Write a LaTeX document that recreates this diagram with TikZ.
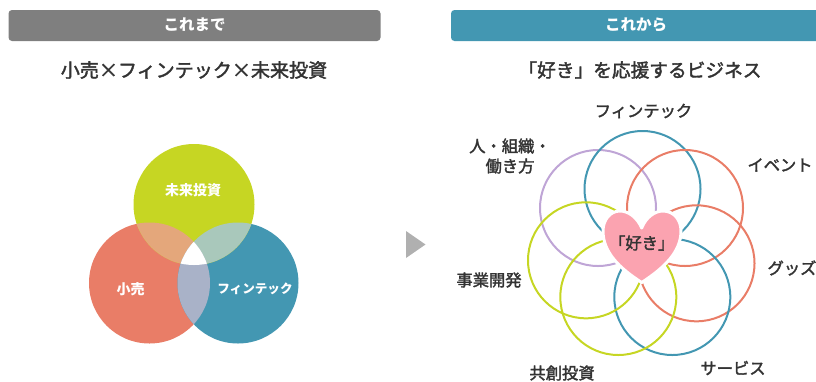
\documentclass[tikz,border=0pt]{standalone}
\usepackage{fontspec}
\setmainfont{Noto Sans CJK JP}
\newfontfamily\medfont[FakeBold=2]{Noto Sans CJK JP}
\definecolor{cgreen}{HTML}{C6D623}
\definecolor{cred}{HTML}{E97D67}
\definecolor{cblue}{HTML}{4397B2}
\definecolor{cpurple}{HTML}{BFA5D6}
\definecolor{corange}{HTML}{E4A77B}
\definecolor{cmint}{HTML}{A9C8BB}
\definecolor{cslate}{HTML}{A9B2C8}
\definecolor{cheart}{HTML}{FBA3B0}
\definecolor{cgrey}{HTML}{7F7F7F}
\definecolor{carrow}{HTML}{B0B0B0}
\definecolor{ctxt}{HTML}{333333}
\tikzset{
  headerbar/.style={fill=#1,rounded corners=3.5pt,draw=none},
  headertext/.style={text=white,font=\bfseries\fontsize{15.5}{15.5}\selectfont,inner sep=0pt},
  titletext/.style={text=ctxt,font=\medfont\fontsize{#1}{19}\selectfont,inner sep=0pt},
  lab/.style={text=ctxt,font=\medfont\fontsize{16.3}{20}\selectfont,inner sep=0pt,align=center},
  vennlab/.style={text=white,font=\bfseries\fontsize{#1}{14}\selectfont,inner sep=0pt},
  ring/.style={line width=2pt,draw=#1,fill=none},
}
\def\vT{(194,204.5) circle[radius=60.5pt]}
\def\vL{(149.5,283) circle[radius=60.5pt]}
\def\vR{(238,283) circle[radius=60.5pt]}
\begin{document}
\begin{tikzpicture}[x=1pt,y=-1pt]
\useasboundingbox (0,0) rectangle (816,381);
% header bars
\fill[headerbar=cgrey] (8.5,10) rectangle (380.5,41);
\begin{scope}
\clip (451,0) rectangle (816,381);
\fill[headerbar=cblue] (451,10) rectangle (830,41);
\end{scope}
\node[headertext] (hleft) at (194.5,25) {これまで};
\node[headertext] (hright) at (636,25) {これから};
\node[titletext=19.05] (tleft) at (194,70) {小売×フィンテック×未来投資};
\node[titletext=18.7] (tright) at (640,70) {「好き」を応援するビジネス};
% venn
\fill[cred] \vL;
\fill[cblue] \vR;
\fill[cgreen] \vT;
\begin{scope}\clip \vT; \fill[corange] \vL; \fill[cmint] \vR; \end{scope}
\begin{scope}\clip \vL; \fill[cslate] \vR; \end{scope}
\begin{scope}\clip \vT; \clip \vL; \fill[white] \vR; \end{scope}
\node[vennlab=14] (v1) at (193,190.5) {未来投資};
\node[vennlab=14] (v2) at (130.5,289) {小売};
\node[vennlab=12.6] (v3) at (255,289) {フィンテック};
% arrow
\fill[carrow] (406,231) -- (425.5,244.5) -- (406,258) -- cycle;
% flower
\draw[ring=cpurple] (598,208) circle[radius=58pt];
\draw[ring=cblue] (642.5,189) circle[radius=58pt];
\draw[ring=cred] (685,208) circle[radius=58pt];
\draw[ring=cred] (696.5,263.3) circle[radius=58pt];
\draw[ring=cblue] (672.3,297) circle[radius=58pt];
\draw[ring=cgreen] (618.3,297) circle[radius=58pt];
\draw[ring=cgreen] (586,260.3) circle[radius=58pt];
% heart
\draw[fill=cheart,draw=white,line width=3pt,line join=round]
  (641.7,228) .. controls (646,217) and (655,211) .. (663,211)
  .. controls (674,211) and (681,220) .. (681,231)
  .. controls (681,252) and (664,268) .. (641.7,282.5)
  .. controls (619,268) and (603,252) .. (603,231)
  .. controls (603,220) and (610,211) .. (620,211)
  .. controls (628,211) and (637,217) .. (641.7,228) -- cycle;
\node[lab] (heartlab) at (641.7,243) {「好き」};
\node[lab] (l1) at (643.5,111) {フィンテック};
\node[lab,align=center] (l2) at (510,156) {人・組織・\\働き方};
\node[lab] (l3) at (780,165) {イベント};
\node[lab] (l4) at (792,268) {グッズ};
\node[lab] (l5) at (733,368) {サービス};
\node[lab] (l6) at (562,373) {共創投資};
\node[lab] (l7) at (489,280) {事業開発};
\end{tikzpicture}
\end{document}
